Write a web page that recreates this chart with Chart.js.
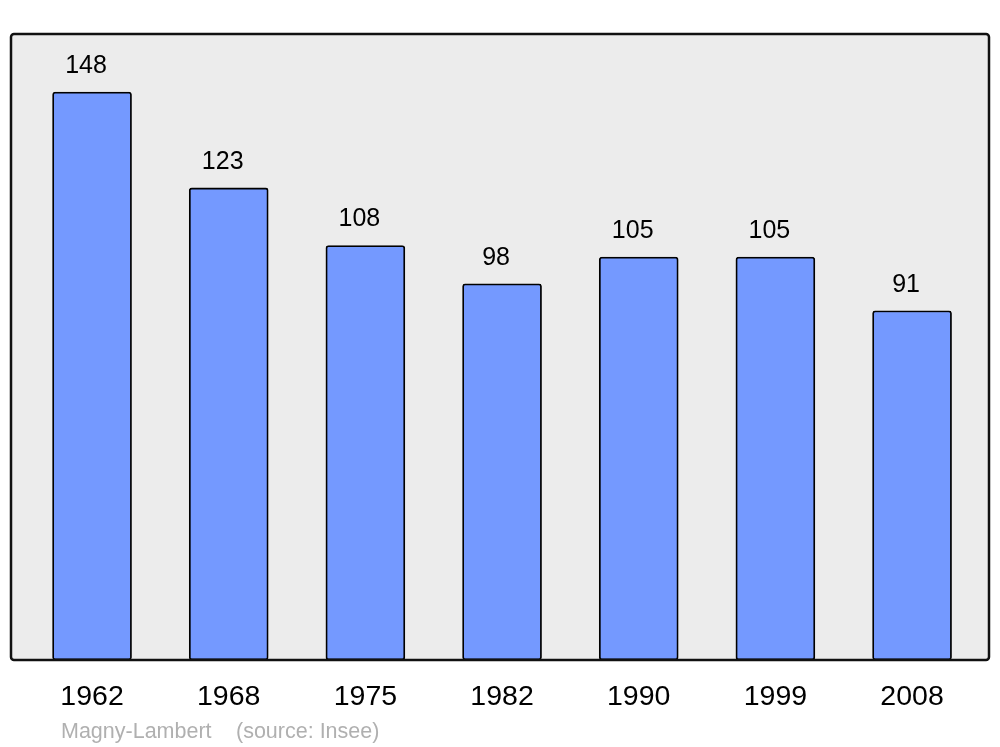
<!DOCTYPE html>
<html>
<head>
<meta charset="utf-8">
<script src="https://cdn.jsdelivr.net/npm/chart.js"></script>
<style>
html,body{margin:0;padding:0;background:#fff;}
#wrap{width:1000px;height:747px;position:relative;}
</style>
</head>
<body>
<div id="wrap"><canvas id="c" width="1000" height="747"></canvas></div>
<script>
const years = ['1962', '1968', '1975', '1982', '1990', '1999', '2008'];
const population = [148, 123, 108, 98, 105, 105, 91];
const footerText = ['Magny-Lambert', '(source: Insee)'];

const FONT = '"Liberation Sans", Arial, sans-serif';

const boxPlugin = {
  id: 'box',
  beforeDatasetsDraw(chart) {
    const {ctx, chartArea: a} = chart;
    ctx.save();
    ctx.beginPath();
    ctx.roundRect(a.left, a.top, a.right - a.left, a.bottom - a.top, 3);
    ctx.fillStyle = '#ececec';
    ctx.fill();
    ctx.restore();
  },
  afterDatasetsDraw(chart) {
    const {ctx, chartArea: a} = chart;
    ctx.save();
    ctx.beginPath();
    ctx.roundRect(a.left, a.top, a.right - a.left, a.bottom - a.top, 3);
    ctx.lineWidth = 2.5;
    ctx.strokeStyle = '#111';
    ctx.stroke();
    // value labels
    const meta = chart.getDatasetMeta(0);
    ctx.fillStyle = '#000';
    ctx.font = '25px ' + FONT;
    ctx.textAlign = 'center';
    ctx.textBaseline = 'alphabetic';
    meta.data.forEach((bar, i) => {
      ctx.fillText(String(population[i]), bar.x - 6, bar.y - 19);
    });
    // footer
    ctx.fillStyle = '#b0b0b0';
    ctx.font = '21.5px ' + FONT;
    ctx.textAlign = 'left';
    ctx.fillText(footerText[0], 61, 738);
    ctx.fillText(footerText[1], 236, 738);
    ctx.restore();
  }
};

new Chart(document.getElementById('c'), {
  type: 'bar',
  data: {
    datasets: [{
      data: population.map((v, i) => ({x: i, y: v})),
      backgroundColor: '#7499ff',
      borderColor: '#000',
      borderWidth: 1.8,
      borderRadius: 3,
      borderSkipped: false,
      barThickness: 79
    }]
  },
  options: {
    responsive: false,
    animation: false,
    devicePixelRatio: 1,
    layout: {padding: {left: 11, right: 11, top: 34, bottom: 0}},
    plugins: {legend: {display: false}, tooltip: {enabled: false}},
    scales: {
      x: {
        type: 'linear',
        offset: false,
        min: -0.593,
        max: 6.563,
        grid: {display: false, offset: false},
        border: {display: false},
        afterBuildTicks(scale) {
          scale.ticks = years.map((_, i) => ({value: i}));
        },
        afterFit(scale) { scale.height = 87; },
        ticks: {
          autoSkip: false,
          maxRotation: 0,
          padding: 12,
          color: '#000',
          font: {family: FONT, size: 28.5},
          callback: (v) => years[v] ?? ''
        }
      },
      y: {
        display: false,
        min: 0,
        max: 163.1
      }
    }
  },
  plugins: [boxPlugin]
});
</script>
</body>
</html>
